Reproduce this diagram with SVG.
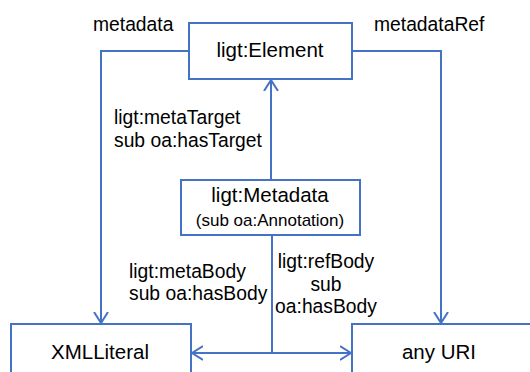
<svg xmlns="http://www.w3.org/2000/svg" width="530" height="372" viewBox="0 0 530 372">
<defs>
<style>
.box{fill:#fff;stroke:#4472C4;stroke-width:2}
.edge{fill:none;stroke:#4472C4;stroke-width:2}
.nl{font-family:"Liberation Sans",Arial,sans-serif;font-size:20.5px;fill:#000;text-anchor:middle}
.sl{font-family:"Liberation Sans",Arial,sans-serif;font-size:17px;fill:#000;text-anchor:middle}
.el{font-family:"Liberation Sans",Arial,sans-serif;font-size:19.3px;fill:#000}
</style>
<marker id="arr" viewBox="0 0 12 16" refX="11" refY="8" markerWidth="12" markerHeight="16" markerUnits="userSpaceOnUse" orient="auto">
<path d="M0,1 L11,8 L0,15" fill="none" stroke="#4472C4" stroke-width="2"/>
</marker>
</defs>
<rect width="530" height="372" fill="#fff"/>
<g id="connectors">
<path class="edge" d="M189,51 H101 V323" marker-end="url(#arr)"/>
<path class="edge" d="M352,51 H441 V323" marker-end="url(#arr)"/>
<path class="edge" d="M271,180 V80" marker-end="url(#arr)"/>
<path class="edge" d="M272,235 V353"/>
<path class="edge" d="M272,353 H192" marker-end="url(#arr)"/>
<path class="edge" d="M272,353 H351" marker-end="url(#arr)"/>
<text class="el" x="93" y="31">metadata</text>
<text class="el" x="374" y="31">metadataRef</text>
<text class="el" x="114" y="124">ligt:metaTarget</text>
<text class="el" x="114" y="147">sub oa:hasTarget</text>
<text class="el" x="129" y="278">ligt:metaBody</text>
<text class="el" x="129" y="300">sub oa:hasBody</text>
<text class="el" x="326" y="268" text-anchor="middle">ligt:refBody</text>
<text class="el" x="326" y="291" text-anchor="middle">sub</text>
<text class="el" x="326" y="313" text-anchor="middle">oa:hasBody</text>
</g>
<g id="element">
<rect class="box" x="189" y="23" width="163" height="56"/>
<text class="nl" x="270" y="57">ligt:Element</text>
</g>
<g id="metadata">
<rect class="box" x="181" y="180" width="179" height="55"/>
<text class="nl" x="270" y="202">ligt:Metadata</text>
<text class="sl" x="270" y="226">(sub oa:Annotation)</text>
</g>
<g id="xmlliteral">
<rect class="box" x="11" y="324" width="180" height="60"/>
<text class="nl" x="100" y="359">XMLLiteral</text>
</g>
<g id="anyuri">
<rect class="box" x="352" y="324" width="190" height="60"/>
<text class="nl" x="439" y="359">any URI</text>
</g>
</svg>
